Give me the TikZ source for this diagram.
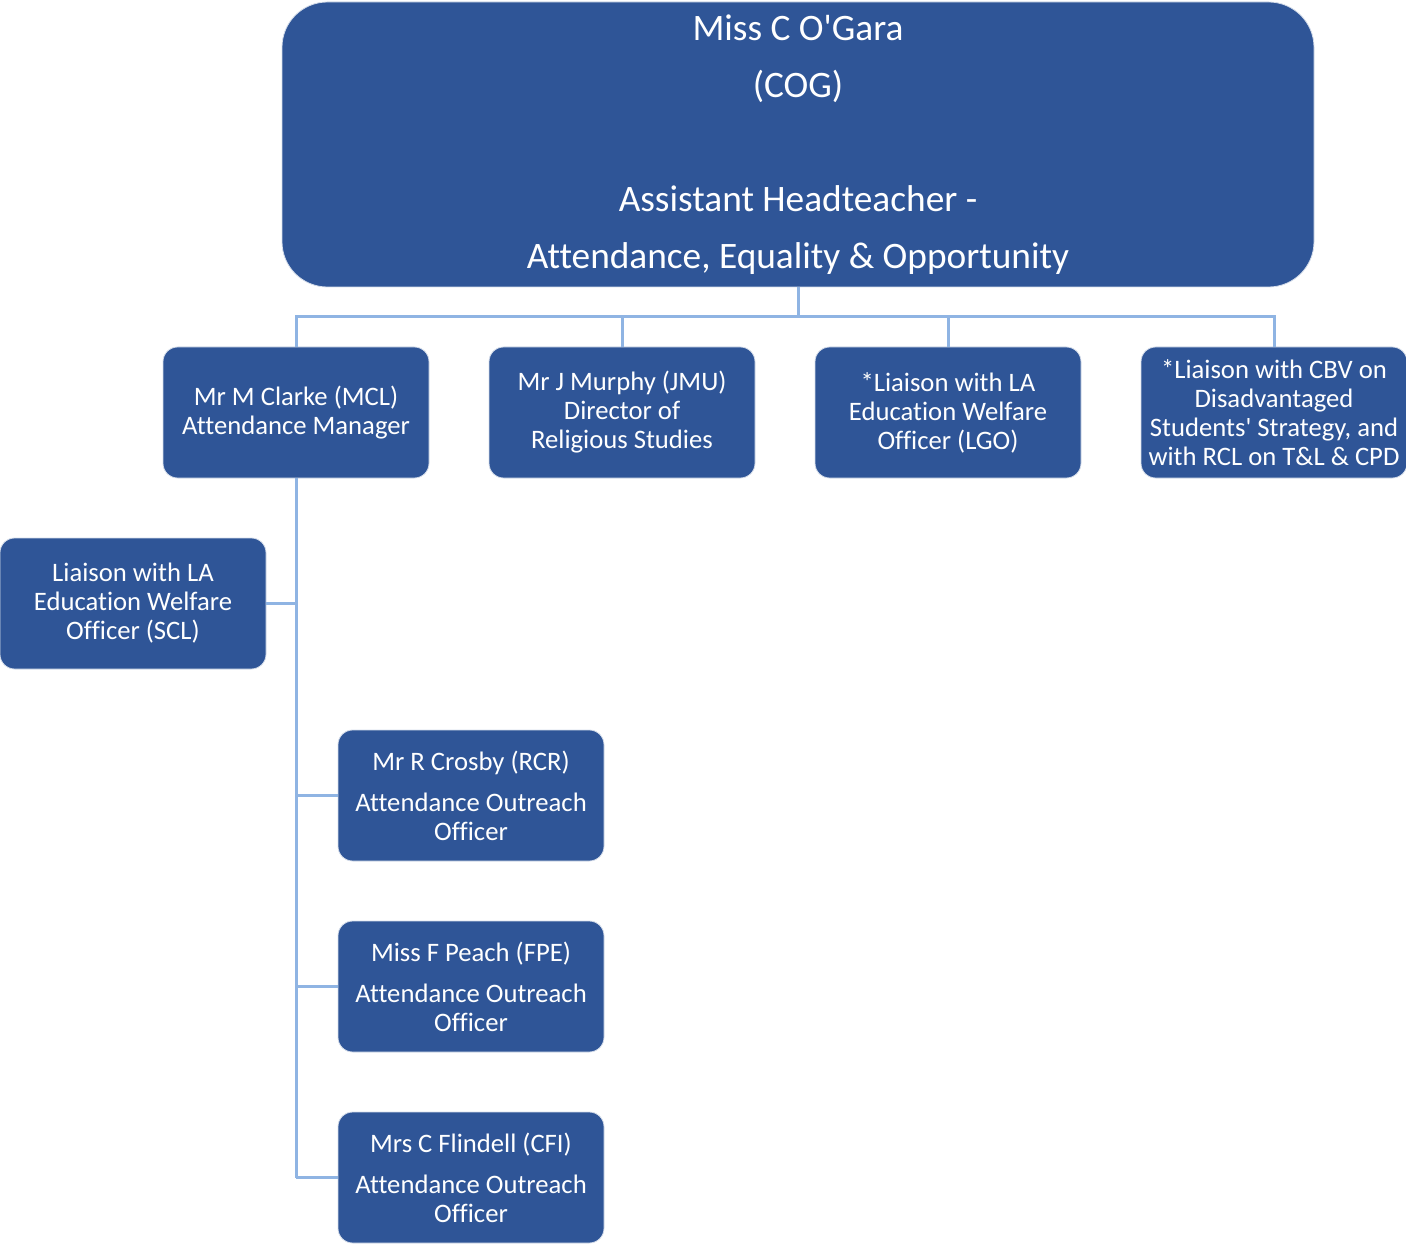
\documentclass[tikz,border=0pt]{standalone}
\usepackage{fontspec}
\newfontfamily\carl{Carlito}[Ligatures=NoCommon]
\definecolor{boxblue}{HTML}{2F5597}
\definecolor{linkblue}{HTML}{8FB4E3}
\begin{document}
\begin{tikzpicture}[x=0.75pt,y=-0.75pt,
  box/.style={rectangle, rounded corners=11pt, fill=boxblue, draw=white!80!boxblue, line width=0.6pt,
    text=white, align=center, minimum width=199.5pt, minimum height=98.25pt, inner sep=0pt,
    font=\carl\fontsize{20}{21.75}\selectfont},
  link/.style={draw=linkblue, line width=2.25pt}]
\useasboundingbox (0,0) rectangle (1406,1244);
\node[box, minimum width=774pt, minimum height=213.75pt, rounded corners=34pt,
  font=\carl\fontsize{28}{42.75}\selectfont] (cog) at (798,144.5)
  {Miss C O'Gara\\(COG)\\[42.75pt]Assistant Headteacher -\\Attendance, Equality \& Opportunity};
\node[box] (mcl) at (296,412.5) {Mr M Clarke (MCL)\\Attendance Manager};
\node[box] (jmu) at (622,412.5) {Mr J Murphy (JMU)\\Director of\\Religious Studies};
\node[box] (lgo) at (948,412.5) {*Liaison with LA\\Education Welfare\\Officer (LGO)};
\node[box] (cbv) at (1274,412.5) {*Liaison with CBV on\\Disadvantaged\\Students' Strategy, and\\with RCL on T\&L \& CPD};
\node[box] (scl) at (133,603.5) {Liaison with LA\\Education Welfare\\Officer (SCL)};
\node[box] (rcr) at (471,795.5) {Mr R Crosby (RCR)\\[9pt]Attendance Outreach\\Officer};
\node[box] (fpe) at (471,986.5) {Miss F Peach (FPE)\\[9pt]Attendance Outreach\\Officer};
\node[box] (cfi) at (471,1177.5) {Mrs C Flindell (CFI)\\[9pt]Attendance Outreach\\Officer};
\coordinate (bus) at (798,317);
\coordinate (spinebot) at (296,1178);
\foreach \n in {mcl,jmu,lgo,cbv}
  \draw[link] (cog.south) -- (bus) -| (\n.north);
\draw[link] (mcl.south) -- (spinebot);
\draw[link] (scl.east) -- (scl.east -| mcl.south);
\foreach \n in {rcr,fpe,cfi}
  \draw[link] (\n.west) -- (\n.west -| mcl.south);
\end{tikzpicture}
\end{document}
